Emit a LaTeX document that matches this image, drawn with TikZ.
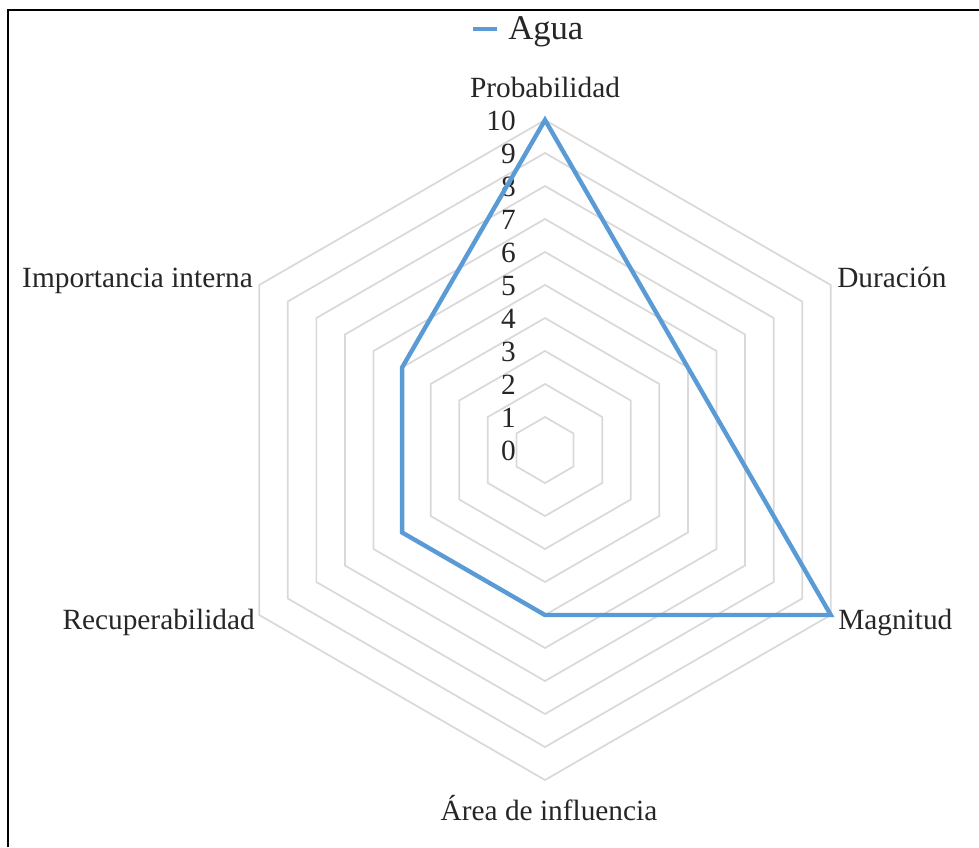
\documentclass[tikz,border=0pt]{standalone}
\usepackage{fontspec}
\setmainfont{Liberation Serif}
\definecolor{agua}{HTML}{5B9BD5}
\definecolor{ringgray}{HTML}{D9D9D9}
\begin{document}
\begin{tikzpicture}[x=0.75pt,y=-0.75pt,
  ring/.style={draw=ringgray,line width=1.3pt},
  series/.style={draw=agua,line width=3.3pt,line join=miter},
  axlbl/.style={font=\fontsize{22}{26}\selectfont,inner sep=0pt,text=black!85},
  ticklbl/.style={font=\fontsize{22}{26}\selectfont,inner sep=0pt,text=black!85,anchor=base east},
  frameline/.style={draw=black,line width=2pt}]
\useasboundingbox (0,0) rectangle (979,847);
% frame
\coordinate (fa) at (8,847);
\coordinate (fb) at (8,10);
\coordinate (fc) at (979,10);
\draw[frameline] (fa) -- (fb) -- (fc);
% rings
\foreach \v in {1,...,10} {
  \draw[ring] ({545+33*\v*cos(90)},{450-33*\v*sin(90)})
    \foreach \a in {30,-30,-90,-150,150} { -- ({545+33*\v*cos(\a)},{450-33*\v*sin(\a)}) } -- cycle;
}
% tick labels
\foreach \v in {0,...,10} {
  \node[ticklbl] (t\v) at (516,{460-33*\v}) {\v};
}
% series
\coordinate (p0) at (545,120);
\coordinate (p1) at ({545+165*cos(30)},{450-165*sin(30)});
\coordinate (p2) at ({545+330*cos(30)},{450+330*sin(30)});
\coordinate (p3) at (545,615);
\coordinate (p4) at ({545-165*cos(30)},{450+165*sin(30)});
\coordinate (p5) at ({545-165*cos(30)},{450-165*sin(30)});
\draw[series] (p0) -- (p1) -- (p2) -- (p3) -- (p4) -- (p5) -- cycle;
% axis labels
\node[axlbl,anchor=base] (prob) at (545,97) {Probabilidad};
\node[axlbl,anchor=base west] (dur) at (837,287) {Duración};
\node[axlbl,anchor=base west] (mag) at (838,629) {Magnitud};
\node[axlbl,anchor=base] (area) at (549,820) {Área de influencia};
\node[axlbl,anchor=base east] (rec) at (255,629) {Recuperabilidad};
\node[axlbl,anchor=base east] (imp) at (253,287) {Importancia interna};
% legend
\coordinate (lg1) at (473,29);
\coordinate (lg2) at (497,29);
\draw[draw=agua,line width=3.5pt] (lg1) -- (lg2);
\node[font=\fontsize{26}{30}\selectfont,inner sep=0pt,text=black!85,anchor=base west] (leg) at (508,39) {Agua};
\end{tikzpicture}
\end{document}
